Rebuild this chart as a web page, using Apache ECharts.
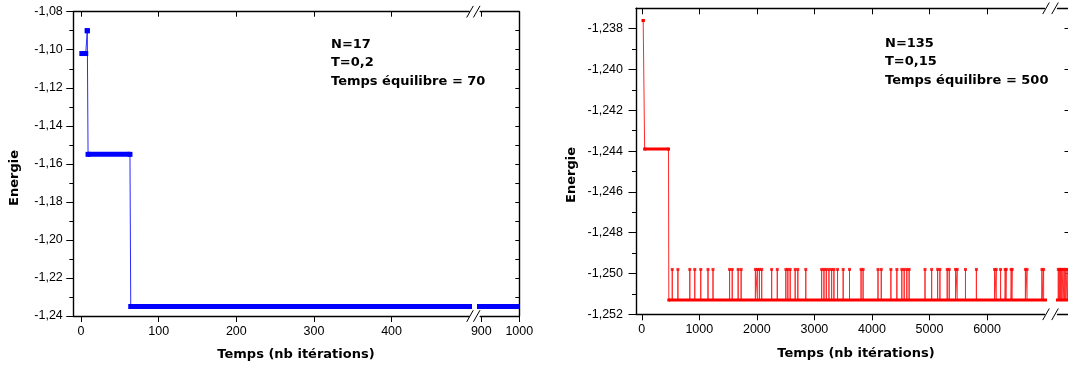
<!DOCTYPE html>
<html><head><meta charset="utf-8">
<script src="https://cdn.jsdelivr.net/npm/echarts@6/dist/echarts.min.js"></script>
<style>html,body{margin:0;padding:0;background:#fff;}#c{width:1068px;height:369px;}</style>
</head><body><div id="c"></div>
<script>
// ===================== DATA =====================
// Left chart (N=17, T=0,2): energy plateaus [startIteration, endIteration, energy]
const leftPlateaus = [[1, 6, -1.102], [8, 8, -1.090], [9, 63, -1.155], [64, 1000, -1.235]];
const leftXTicks = [0, 100, 200, 300, 400];
const leftXTicksBroken = [900, 1000];
const leftYRange = [-1.24, -1.08];

// Right chart (N=135, T=0,15)
const rightPlateaus = [[25, 25, -1.2376], [50, 465, -1.2439], [470, 10000, -1.2513]];
const rightSpikeLevel = -1.2498;
const rightSpikes = [530, 628, 835, 921, 1025, 1151, 1238, 1526, 1572, 1675, 1727, 1975, 2009, 2044, 2084,
  2257, 2355, 2504, 2539, 2579, 2666, 2712, 2850, 3126, 3166, 3207, 3253, 3299, 3339, 3402, 3500, 3610,
  3811, 3846, 4105, 4162, 4329, 4433, 4519, 4560, 4606, 4646, 4922, 5037, 5141, 5181, 5308, 5343, 5452,
  5481, 5625, 5815, 6131, 6160, 6235, 6315, 6333, 6419, 6436, 6667, 6695, 6954, 6983,
  9860, 9874, 9888, 9902, 9919, 9936, 9953, 9971, 9990];
const rightXTicks = [0, 1000, 2000, 3000, 4000, 5000, 6000];
const rightYTicks = [-1.252, -1.250, -1.248, -1.246, -1.244, -1.242, -1.240, -1.238];
const rightYRange = [-1.252, -1.237];

const leftNote = 'N=17\nT=0,2\nTemps équilibre = 70';
const rightNote = 'N=135\nT=0,15\nTemps équilibre = 500';
const xTitle = 'Temps (nb itérations)';
const yTitle = 'Energie';

// ===================== LAYOUT =====================
const L_TOP = 11.7, L_BOT = 316, L1_LEFT = 73.3, L1_RIGHT = 469.2, L2_LEFT = 480.2, L2_RIGHT = 519.3;
const R_TOP = 8.3, R_BOT = 314.3, R1_LEFT = 636, R1_RIGHT = 1044.6, R2_LEFT = 1057.5, R2_RIGHT = 1069.5;
const TICK_FONT = 'Liberation Sans';
const BOLD_FONT = 'bold 13px "DejaVu Sans"';

function grid(l, r, t, b) {
  return { left: l, top: t, width: r - l, height: b - t, containLabel: false, outerBoundsMode: 'none' };
}
const AX_LINE = { show: true, onZero: false, lineStyle: { color: '#000', width: 1.4 } };
const tickLine = { color: '#000', width: 1 };
function xAx(gi, min, max, pos, ticks, labels, inside, len) {
  return {
    type: 'value', gridIndex: gi, min, max, position: pos,
    axisLine: AX_LINE, splitLine: { show: false },
    axisTick: { show: ticks.length > 0, customValues: ticks.length ? ticks : undefined, inside, length: len, lineStyle: tickLine },
    axisLabel: { show: labels, customValues: ticks.length ? ticks : undefined, margin: 9, color: '#000',
      fontFamily: TICK_FONT, fontSize: 12.5, formatter: v => String(v) }
  };
}
function yAx(gi, range, pos, extra) {
  return Object.assign({
    type: 'value', gridIndex: gi, min: range[0], max: range[1], position: pos,
    axisLine: AX_LINE, splitLine: { show: false }
  }, extra);
}

const xAxis = [
  xAx(0, -10, 500, 'bottom', leftXTicks, true, false, 6),
  xAx(0, -10, 500, 'top', leftXTicks, false, true, 5),
  xAx(1, 897, 1000, 'bottom', leftXTicksBroken, true, false, 6),
  xAx(1, 897, 1000, 'top', leftXTicksBroken, false, true, 5),
  xAx(2, -100, 7000, 'bottom', rightXTicks, true, false, 6),
  xAx(2, -100, 7000, 'top', rightXTicks, false, true, 6),
  xAx(3, 9850, 10000, 'bottom', [], false, false, 6),
  xAx(3, 9850, 10000, 'top', [], false, true, 6)
];
const yAxis = [
  yAx(0, leftYRange, 'left', {
    interval: 0.02,
    axisTick: { show: true, length: 7, lineStyle: tickLine },
    minorTick: { show: true, splitNumber: 2, length: 4, lineStyle: tickLine },
    axisLabel: { margin: 10.5, color: '#000', fontFamily: TICK_FONT, fontSize: 12.5, formatter: v => v.toFixed(2).replace('.', ',') }
  }),
  yAx(1, leftYRange, 'right', {
    interval: 0.02,
    axisTick: { show: true, inside: true, length: 4, lineStyle: tickLine },
    minorTick: { show: true, splitNumber: 2, length: 4, lineStyle: tickLine },
    axisLabel: { show: false }
  }),
  yAx(2, rightYRange, 'left', {
    interval: 0.002,
    axisTick: { show: true, customValues: rightYTicks, length: 7.5, lineStyle: tickLine },
    minorTick: { show: true, splitNumber: 2, length: 4, lineStyle: tickLine },
    axisLabel: { customValues: rightYTicks, margin: 13, color: '#000', fontFamily: TICK_FONT, fontSize: 12.5, formatter: v => v.toFixed(3).replace('.', ',') }
  }),
  yAx(3, rightYRange, 'right', {
    axisTick: { show: true, inside: true, customValues: rightYTicks, length: 5, lineStyle: tickLine },
    axisLabel: { show: false }
  })
];

// ===================== SERIES =====================
function profile(plateaus, spikes, top) {
  const pts = [];
  plateaus.forEach((p, i) => {
    pts.push([p[0], p[2]]);
    if (spikes && i === plateaus.length - 1) spikes.forEach(s => pts.push([s, p[2]], [s, top], [s, p[2]]));
    pts.push([p[1], p[2]]);
  });
  return pts;
}
function seriesFor(xi, yi, plateaus, color, thinColor, band, spikes, top) {
  const out = [];
  plateaus.forEach((p, i) => {
    const last = i === plateaus.length - 1;
    out.push({
      type: 'line', xAxisIndex: xi, yAxisIndex: yi, silent: true, z: 3,
      data: [{ value: [p[0], p[2]] }, last ? { value: [p[1], p[2]], symbol: 'none' } : { value: [p[1], p[2]] }],
      showSymbol: true, symbol: 'rect', symbolSize: band,
      itemStyle: { color }, lineStyle: { color, width: band, cap: 'butt' }
    });
  });
  out.push({
    type: 'line', xAxisIndex: xi, yAxisIndex: yi, silent: true, z: 2,
    data: profile(plateaus, spikes, top), showSymbol: false,
    lineStyle: { color: thinColor, width: 1 }
  });
  if (spikes) out.push({
    type: 'scatter', xAxisIndex: xi, yAxisIndex: yi, silent: true, z: 4,
    data: spikes.map(s => [s, top]), symbol: 'rect', symbolSize: [3, 3],
    itemStyle: { color }
  });
  return out;
}
const series = [].concat(
  seriesFor(0, 0, leftPlateaus, '#0000ff', '#2a2aff', 5),
  seriesFor(2, 1, leftPlateaus, '#0000ff', '#2a2aff', 5),
  seriesFor(4, 2, rightPlateaus, '#ff0000', '#ff2a2a', 3, rightSpikes, rightSpikeLevel),
  seriesFor(6, 3, rightPlateaus, '#ff0000', '#ff2a2a', 3, rightSpikes, rightSpikeLevel)
);

// ===================== DECORATION =====================
function slash(x, y) {
  return { type: 'line', silent: true, z: 10, shape: { x1: x - 3.3, y1: y + 5.8, x2: x + 3.3, y2: y - 5.8 }, style: { stroke: '#000', lineWidth: 1 } };
}
function txt(x, y, text, extra) {
  return Object.assign({ type: 'text', x, y, silent: true, z: 10,
    style: Object.assign({ text, font: BOLD_FONT, fill: '#000' }, extra && extra.style) }, extra && extra.el);
}
const graphic = [
  slash(L1_RIGHT + 0.8, L_TOP), slash(L2_LEFT - 3.5, L_TOP), slash(L1_RIGHT + 0.8, L_BOT), slash(L2_LEFT - 3.5, L_BOT),
  slash(R1_RIGHT + 1.4, R_TOP), slash(R2_LEFT - 2.5, R_TOP), slash(R1_RIGHT + 1.4, R_BOT), slash(R2_LEFT - 2.5, R_BOT),
  txt(331, 35, leftNote, { style: { lineHeight: 18.5, verticalAlign: 'top' } }),
  txt(885, 34, rightNote, { style: { lineHeight: 18.5, verticalAlign: 'top' } }),
  txt(296, 355, xTitle, { style: { align: 'center', verticalAlign: 'middle' } }),
  txt(856, 354, xTitle, { style: { align: 'center', verticalAlign: 'middle' } }),
  txt(15, 178, yTitle, { style: { align: 'center', verticalAlign: 'middle' }, el: { rotation: Math.PI / 2 } }),
  txt(572, 175, yTitle, { style: { align: 'center', verticalAlign: 'middle' }, el: { rotation: Math.PI / 2 } })
];

const chart = echarts.init(document.getElementById('c'), null, { renderer: 'canvas' });
chart.setOption({
  animation: false,
  backgroundColor: '#fff',
  grid: [grid(L1_LEFT, L1_RIGHT, L_TOP, L_BOT), grid(L2_LEFT, L2_RIGHT, L_TOP, L_BOT),
         grid(R1_LEFT, R1_RIGHT, R_TOP, R_BOT), grid(R2_LEFT, R2_RIGHT, R_TOP, R_BOT)],
  xAxis, yAxis, series, graphic
});
</script></body></html>
